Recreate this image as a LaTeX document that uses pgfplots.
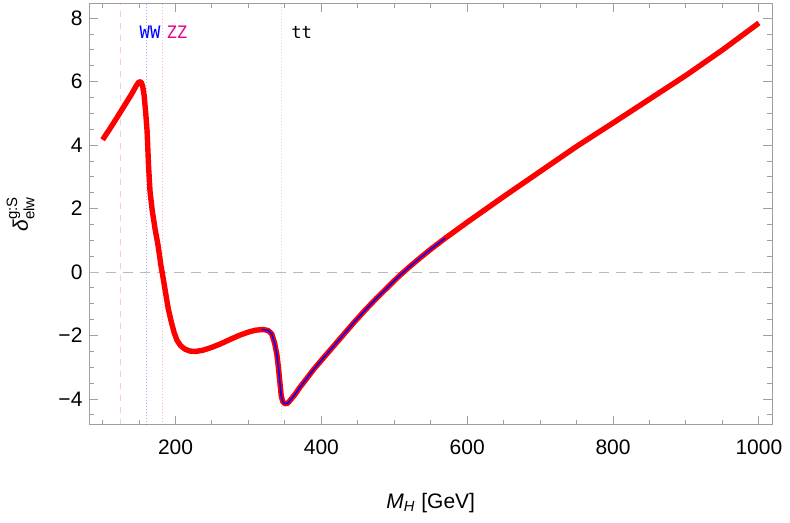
\documentclass[border=0pt]{standalone}
\usepackage{fontspec}
\setmainfont{Liberation Sans}
\newfontfamily\monofont{DejaVu Sans Mono}
\usepackage{pgfplots}
\pgfplotsset{compat=1.18}

\pgfplotstableread{
x y
100 4.17
110 4.52
120 4.88
130 5.25
140 5.62
146 5.87
150 6.00
153 5.98
155 5.85
157 5.55
159 5.05
161 4.45
163 3.35
165 2.55
168 1.95
172 1.35
176 0.85
180 0.20
182 -0.05
186 -0.60
190 -1.15
194 -1.55
198 -1.90
202 -2.15
207 -2.32
213 -2.43
220 -2.49
228 -2.50
238 -2.46
250 -2.37
262 -2.26
275 -2.12
288 -1.99
300 -1.89
310 -1.83
320 -1.81
327 -1.84
332 -1.95
336 -2.25
339 -2.60
341 -2.98
343 -3.45
345 -3.90
347 -4.08
350 -4.15
354 -4.13
358 -4.02
364 -3.85
370 -3.65
380 -3.35
390 -3.05
400 -2.78
415 -2.38
430 -1.98
445 -1.58
460 -1.20
475 -0.84
490 -0.50
505 -0.16
520 0.15
535 0.44
550 0.72
570 1.07
600 1.57
650 2.38
700 3.17
750 3.96
800 4.70
850 5.45
900 6.20
950 7.00
1000 7.85
}\redcurve

\pgfplotstableread{
x y
318 -1.81
327 -1.84
332 -1.95
336 -2.25
339 -2.60
341 -2.98
343 -3.45
345 -3.90
347 -4.08
350 -4.15
354 -4.13
358 -4.02
364 -3.85
370 -3.65
380 -3.35
390 -3.05
400 -2.78
415 -2.38
430 -1.98
445 -1.58
460 -1.20
475 -0.84
490 -0.50
505 -0.16
520 0.15
535 0.44
550 0.72
570 1.07
}\bluecurve

\begin{document}
\begin{tikzpicture}
\begin{axis}[
  scale only axis, width=341.5pt, height=211pt,
  xmin=82, xmax=1018, ymin=-4.81, ymax=8.48,
  axis line style={gray!75},
  tick align=inside, xtick pos=both, ytick pos=both,
  xticklabel pos=lower, yticklabel pos=left,
  major tick length=4.5pt, minor tick length=2.5pt,
  every tick/.style={gray!75, line width=0.5pt},
  xtick={200,400,...,1000},
  xticklabels={200,400,600,800,1000},
  minor xtick={100,150,...,1000},
  ytick={-4,-2,...,8},
  minor ytick={-4.5,-4,...,8},
  yticklabels={−4,−2,0,2,4,6,8},
  /pgf/number format/assume math mode=true,
  ticklabel style={font=\fontsize{10.5}{12}\selectfont},
  xticklabel style={yshift=-4pt},
  xlabel={\textit{M}\textsubscript{\textit{H}} [GeV]},
  ylabel={\(\mbox{\itshape δ}^{\mbox{\fontsize{7.5}{8}\selectfont g:S}}_{\mbox{\fontsize{7.5}{8}\selectfont elw}}\)},
  label style={font=\fontsize{10.5}{12}\selectfont},
  xlabel style={at={(axis description cs:0.5,-0.185)}, anchor=center},
  ylabel style={at={(axis description cs:-0.101,0.5)}, anchor=center},
]
% threshold markers
\addplot[red!60!white, opacity=0.35, dashed, line width=0.5pt] coordinates {(125,-4.81) (125,8.48)};
\addplot[blue, opacity=0.3, densely dotted, line width=0.5pt] coordinates {(160.8,-4.81) (160.8,8.48)};
\addplot[magenta, opacity=0.3, densely dotted, line width=0.5pt] coordinates {(182.4,-4.81) (182.4,8.48)};
\addplot[gray, opacity=0.3, densely dotted, line width=0.5pt] coordinates {(345,-4.81) (345,8.48)};
\addplot[gray!55, dash pattern=on 5pt off 3.5pt, line width=0.5pt] coordinates {(82,0) (1018,0)};
% curves
\addplot[red, line width=2.7pt, line join=round] table[x=x,y=y] {\redcurve};
\addplot[blue, line width=0.8pt, line join=round] table[x=x,y=y] {\bluecurve};
\node[text=blue, font=\monofont\fontsize{8.6}{9}\selectfont] at (axis cs:165,7.55) {WW};
\node[text=magenta, font=\monofont\fontsize{8.6}{9}\selectfont] at (axis cs:202,7.55) {ZZ};
\node[text=black, font=\monofont\fontsize{8.6}{9}\selectfont] at (axis cs:373,7.55) {tt};
\end{axis}
\path ([shift={(-44.5pt,-49pt)}]current axis.south west) rectangle ([shift={(9pt,1.5pt)}]current axis.north east);
\end{tikzpicture}
\end{document}
